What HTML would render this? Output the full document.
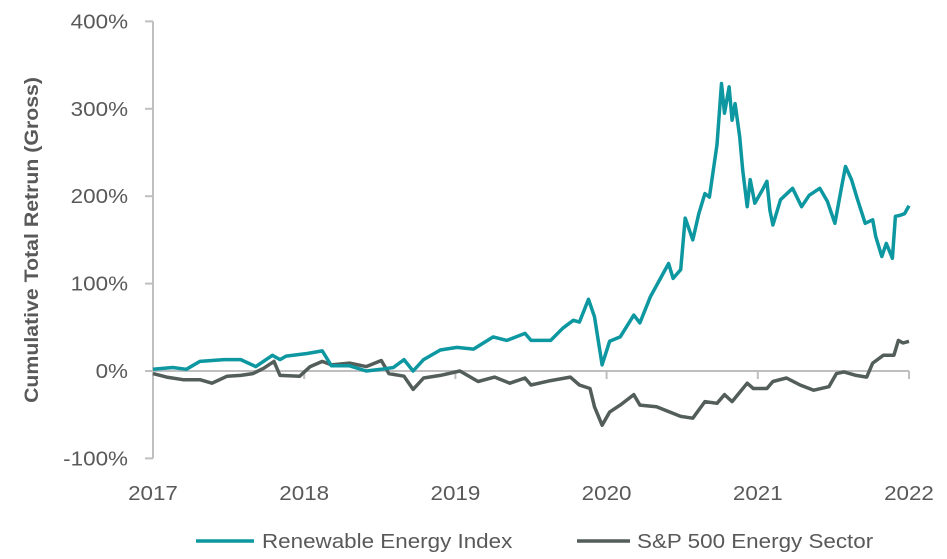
<!DOCTYPE html>
<html><head><meta charset="utf-8"><style>
body{margin:0;background:#fff;}
svg{display:block;font-family:"Liberation Sans",sans-serif;}
</style></head><body>
<svg id="chart" width="947" height="559">
<g id="axes"></g><g id="series"></g>
<text class="wide" transform="translate(38,240) rotate(-90)" text-anchor="middle" font-size="19" font-weight="bold" fill="#595959">Cumulative Total Retrun (Gross)</text>
<g>
<line x1="196" y1="541" x2="254" y2="541" stroke="#0d97a0" stroke-width="3.5"/>
<text class="wide" x="262" y="548" font-size="20" fill="#595959">Renewable Energy Index</text>
<line x1="577" y1="541" x2="630" y2="541" stroke="#535e5b" stroke-width="3.5"/>
<text class="wide" x="637" y="548" font-size="20" fill="#595959">S&amp;P 500 Energy Sector</text>
</g>
</svg>
<script>
const yTicks=[-100,0,100,200,300,400];
const yTickLabels=["-100%","0%","100%","200%","300%","400%"];
const xTicks=[2017,2018,2019,2020,2021,2022];
const renYears=[2017.00,2017.13,2017.22,2017.31,2017.47,2017.58,2017.68,2017.79,2017.84,2017.88,2018.02,2018.12,2018.18,2018.30,2018.41,2018.51,2018.59,2018.66,2018.72,2018.79,2018.90,2019.01,2019.12,2019.25,2019.34,2019.46,2019.50,2019.63,2019.71,2019.78,2019.82,2019.88,2019.92,2019.97,2020.02,2020.09,2020.18,2020.22,2020.29,2020.35,2020.41,2020.44,2020.49,2020.52,2020.57,2020.61,2020.65,2020.68,2020.73,2020.76,2020.78,2020.81,2020.83,2020.85,2020.88,2020.90,2020.93,2020.95,2020.98,2021.03,2021.06,2021.08,2021.10,2021.15,2021.23,2021.29,2021.34,2021.41,2021.46,2021.51,2021.55,2021.58,2021.62,2021.66,2021.71,2021.76,2021.78,2021.82,2021.85,2021.89,2021.91,2021.94,2021.97,2022.00];
const renValues=[2,4,2,11,13,13,5,18,13,17,20,23,6,6,0,2,4,13,0,13,24,27,25,39,35,43,35,35,49,58,56,82,62,7,34,39,64,55,85,104,123,106,116,175,150,180,203,199,259,329,295,325,287,306,268,230,188,219,192,207,217,184,167,196,209,188,201,209,194,169,207,234,219,196,169,173,154,131,146,129,177,178,180,189];
const spYears=[2017.00,2017.09,2017.20,2017.31,2017.39,2017.49,2017.58,2017.66,2017.73,2017.80,2017.84,2017.97,2018.04,2018.12,2018.18,2018.30,2018.41,2018.51,2018.56,2018.66,2018.72,2018.79,2018.90,2019.03,2019.15,2019.26,2019.36,2019.46,2019.50,2019.63,2019.76,2019.82,2019.89,2019.92,2019.97,2020.02,2020.09,2020.18,2020.22,2020.33,2020.49,2020.57,2020.65,2020.73,2020.78,2020.83,2020.93,2020.97,2021.06,2021.10,2021.19,2021.28,2021.37,2021.47,2021.52,2021.57,2021.65,2021.72,2021.76,2021.83,2021.90,2021.93,2021.96,2022.00];
const spValues=[-3,-7,-10,-10,-14,-6,-5,-3,3,11,-5,-6,5,11,7,9,5,12,-3,-6,-21,-8,-5,0,-12,-7,-14,-8,-16,-11,-7,-16,-20,-41,-62,-47,-39,-27,-39,-41,-52,-54,-35,-37,-27,-35,-14,-20,-20,-12,-8,-16,-22,-18,-3,-1,-5,-7,9,18,18,35,32,34];

const NS="http://www.w3.org/2000/svg";
const x=v=>153+(v-2017)*151.2;
const y=v=>371-v*0.874;
const axes=document.getElementById('axes'),series=document.getElementById('series');
function mk(tag,attrs,parent){const e=document.createElementNS(NS,tag);for(const k in attrs)e.setAttribute(k,attrs[k]);parent.appendChild(e);return e;}
let yl=mk('line',{x1:153,x2:153,y1:y(400),y2:y(-100),stroke:'#bfbfbf','stroke-width':2},axes);


yTicks.forEach((t,i)=>{
 const tk=mk('line',{x1:145,x2:153,y1:y(t),y2:y(t),stroke:'#bfbfbf','stroke-width':2},axes);
 
 
 const tx=mk('text',{x:128,y:y(t)+7,'text-anchor':'end','font-size':20,fill:'#595959','class':'wide'},axes);
 tx.textContent=yTickLabels[i];
 
 
});
let xl=mk('line',{x1:153,x2:x(2022),y1:y(0),y2:y(0),stroke:'#bfbfbf','stroke-width':2},axes);


xTicks.forEach(t=>{
 const tk=mk('line',{x1:x(t),x2:x(t),y1:y(0),y2:y(0)+8,stroke:'#bfbfbf','stroke-width':2},axes);
 
 
 const tx=mk('text',{x:x(t),y:500,'text-anchor':'middle','font-size':20,fill:'#595959','class':'wide'},axes);
 tx.textContent=String(t);
 
 
});
function path(xs,vs){return xs.map((v,i)=>(i?'L':'M')+x(v).toFixed(1)+','+y(vs[i]).toFixed(1)).join('');}
const p2=mk('path',{d:path(spYears,spValues),fill:'none',stroke:'#535e5b','stroke-width':3.5,'stroke-linejoin':'round'},series);


const p1=mk('path',{d:path(renYears,renValues),fill:'none',stroke:'#0d97a0','stroke-width':3.5,'stroke-linejoin':'round'},series);


document.querySelectorAll('text.wide').forEach(t=>{
 const w=t.getComputedTextLength();
 t.setAttribute('textLength',(w*1.12).toFixed(1));
 t.setAttribute('lengthAdjust','spacingAndGlyphs');
});
</script>
</body></html>
